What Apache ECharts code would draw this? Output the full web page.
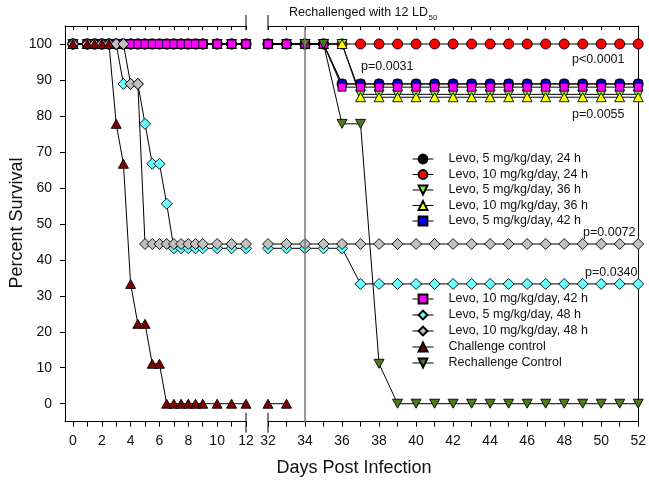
<!DOCTYPE html>
<html><head><meta charset="utf-8">
<script src="https://cdn.jsdelivr.net/npm/echarts@6/dist/echarts.min.js"></script>
<style>html,body{margin:0;padding:0;background:#fff}#c{width:649px;height:480px}</style>
</head><body><div id="c"></div>
<script>
// ---------- data ----------
const daysEarly = [0, 1, 1.5, 2, 2.5, 3, 3.5, 4, 4.5, 5, 5.5, 6, 6.5, 7, 7.5, 8, 8.5, 9, 10, 11, 12];
const daysLate = [32, 33, 34, 35, 36, 37, 38, 39, 40, 41, 42, 43, 44, 45, 46, 47, 48, 49, 50, 51, 52];

const xTicksEarly = [0, 1, 2, 3, 4, 5, 6, 7, 8, 9, 10, 11, 12];
const xLabelsEarly = [0, 2, 4, 6, 8, 10, 12];
const xTicksLate = [32, 33, 34, 35, 36, 37, 38, 39, 40, 41, 42, 43, 44, 45, 46, 47, 48, 49, 50, 51, 52];
const xLabelsLate = [32, 34, 36, 38, 40, 42, 44, 46, 48, 50, 52];
const yTicks = [0, 10, 20, 30, 40, 50, 60, 70, 80, 90, 100];

const names = [
  'Levo, 5 mg/kg/day, 24 h', 'Levo, 10 mg/kg/day, 24 h', 'Levo, 5 mg/kg/day, 36 h',
  'Levo, 10 mg/kg/day, 36 h', 'Levo, 5 mg/kg/day, 42 h', 'Levo, 10 mg/kg/day, 42 h',
  'Levo, 5 mg/kg/day, 48 h', 'Levo, 10 mg/kg/day, 48 h', 'Challenge control', 'Rechallenge Control'
];

const levo5_24_early  = [100,100,100,100,100,100,100,100,100,100,100,100,100,100,100,100,100,100,100,100,100];
const levo5_24_late   = [100,100,100,100,88.9,88.9,88.9,88.9,88.9,88.9,88.9,88.9,88.9,88.9,88.9,88.9,88.9,88.9,88.9,88.9,88.9];
const levo10_24_early = [100,100,100,100,100,100,100,100,100,100,100,100,100,100,100,100,100,100,100,100,100];
const levo10_24_late  = [100,100,100,100,100,100,100,100,100,100,100,100,100,100,100,100,100,100,100,100,100];
const levo5_36_early  = [100,100,100,100,100,100,100,100,100,100,100,100,100,100,100,100,100,100,100,100,100];
const levo5_36_late   = [100,100,100,100,100,86,86,86,86,86,86,86,86,86,86,86,86,86,86,86,86];
const levo10_36_early = [100,100,100,100,100,100,100,100,100,100,100,100,100,100,100,100,100,100,100,100,100];
const levo10_36_late  = [100,100,100,100,100,85.2,85.2,85.2,85.2,85.2,85.2,85.2,85.2,85.2,85.2,85.2,85.2,85.2,85.2,85.2,85.2];
const levo5_42_early  = [100,100,100,100,100,100,100,100,100,100,100,100,100,100,100,100,100,100,100,100,100];
const levo5_42_late   = [100,100,100,100,88.9,88.9,88.9,88.9,88.9,88.9,88.9,88.9,88.9,88.9,88.9,88.9,88.9,88.9,88.9,88.9,88.9];
const levo10_42_early = [100,100,100,100,100,100,100,100,100,100,100,100,100,100,100,100,100,100,100,100,100];
const levo10_42_late  = [100,100,100,100,88,88,88,88,88,88,88,88,88,88,88,88,88,88,88,88,88];
const levo5_48_early  = [100,100,100,100,100,100,88.9,88.9,88.9,77.8,66.7,66.7,55.6,43.2,43.2,43.2,43.2,43.2,43.2,43.2,43.2];
const levo5_48_late   = [43.2,43.2,43.2,43.2,43.2,33.3,33.3,33.3,33.3,33.3,33.3,33.3,33.3,33.3,33.3,33.3,33.3,33.3,33.3,33.3,33.3];
const levo10_48_early = [100,100,100,100,100,100,100,88.9,88.9,44.4,44.4,44.4,44.4,44.4,44.4,44.4,44.4,44.4,44.4,44.4,44.4];
const levo10_48_late  = [44.4,44.4,44.4,44.4,44.4,44.4,44.4,44.4,44.4,44.4,44.4,44.4,44.4,44.4,44.4,44.4,44.4,44.4,44.4,44.4,44.4];
const challenge_early = [100,100,100,100,100,77.8,66.7,33.3,22.2,22.2,11.1,11.1,0,0,0,0,0,0,0,0,0];
const challenge_late  = [0,0,null,null,null,null,null,null,null,null,null,null,null,null,null,null,null,null,null,null,null];
const rechallenge_early = [null,null,null,null,null,null,null,null,null,null,null,null,null,null,null,null,null,null,null,null,null];
const rechallenge_late  = [null,null,100,100,77.8,77.8,11.1,0,0,0,0,0,0,0,0,0,0,0,0,0,0];

// ---------- styling ----------
const FONT = '"Liberation Sans", Arial, sans-serif';
const DOWN_TRI = 'path://M0,0L10,0L5,9Z';
const UP_TRI = 'path://M5,0L10,9L0,9Z';
const styles = [
  {color: '#000000', symbol: 'circle', size: 10},
  {color: '#ff0000', symbol: 'circle', size: 10},
  {color: '#8cf024', symbol: DOWN_TRI, size: [10, 9]},
  {color: '#ffff00', symbol: UP_TRI, size: [10, 9]},
  {color: '#0000ff', symbol: 'rect', size: 8},
  {color: '#ff00ff', symbol: 'rect', size: 8},
  {color: '#66ffff', symbol: 'diamond', size: [11, 11]},
  {color: '#c0c0c0', symbol: 'diamond', size: [11, 11]},
  {color: '#800000', symbol: UP_TRI, size: [10, 9]},
  {color: '#4d7a1e', symbol: DOWN_TRI, size: [10, 9]}
];
const early = [levo5_24_early, levo10_24_early, levo5_36_early, levo10_36_early, levo5_42_early,
  levo10_42_early, levo5_48_early, levo10_48_early, challenge_early, rechallenge_early];
const late = [levo5_24_late, levo10_24_late, levo5_36_late, levo10_36_late, levo5_42_late,
  levo10_42_late, levo5_48_late, levo10_48_late, challenge_late, rechallenge_late];
// drawing order (later = on top)
const drawOrder = [1, 0, 2, 3, 4, 5, 6, 7, 8, 9];

const G1 = {left: 65, top: 26, width: 181, height: 395.7};
const G2 = {left: 268, top: 26, width: 374, height: 395.7};
const X1MIN = -0.55, X1MAX = 12, X2MIN = 32, X2MAX = 52, YMIN = -5, YMAX = 105;

function mkSeries(i, seg) {
  const s = styles[i];
  const xs = seg === 0 ? daysEarly : daysLate;
  const ys = seg === 0 ? early[i] : late[i];
  const ser = {
    type: 'line', name: names[i],
    xAxisIndex: seg, yAxisIndex: seg,
    data: xs.map((x, k) => [x, ys[k]]),
    symbol: s.symbol, symbolSize: s.size, showAllSymbol: true,
    connectNulls: false, clip: false,
    lineStyle: {color: '#000', width: 1},
    itemStyle: {color: s.color, borderColor: '#000', borderWidth: 0.9, opacity: 1},
    emphasis: {disabled: true}
  };
  if (seg === 1 && i === 9) {
    ser.markLine = {
      silent: true, symbol: 'none', animation: false,
      label: {show: false},
      lineStyle: {color: '#7a7a7a', width: 1.5, type: 'solid'},
      data: [{xAxis: 34}]
    };
  }
  return ser;
}
const series = [];
drawOrder.forEach(i => { series.push(mkSeries(i, 0)); series.push(mkSeries(i, 1)); });

const axisLineStyle = {color: '#000', width: 1};
const labelStyle = {color: '#111', fontSize: 14, fontFamily: FONT};

function xAxisBottom(grid, min, max, ticks, labels) {
  return {
    type: 'value', gridIndex: grid, min: min, max: max, position: 'bottom',
    axisLine: {show: true, onZero: false, lineStyle: axisLineStyle},
    axisTick: {show: true, inside: false, length: 5, customValues: ticks, lineStyle: axisLineStyle},
    axisLabel: Object.assign({show: true, margin: 12, customValues: labels}, labelStyle),
    splitLine: {show: false}
  };
}
function xAxisTop(grid, min, max, ticks) {
  return {
    type: 'value', gridIndex: grid, min: min, max: max, position: 'top',
    axisLine: {show: true, onZero: false, lineStyle: axisLineStyle},
    axisTick: {show: true, inside: true, length: 4, customValues: ticks, lineStyle: axisLineStyle},
    axisLabel: {show: false}, splitLine: {show: false}
  };
}

const legendCommon = {
  orient: 'vertical', left: 412, padding: 0, itemWidth: 21, itemHeight: 11,
  selectedMode: false,
  lineStyle: {width: 1, color: '#000'},
  textStyle: {fontSize: 12.5, fontFamily: FONT, color: '#111', padding: [0, 0, 0, 10], lineHeight: 14}
};

const chart = echarts.init(document.getElementById('c'), null, {renderer: 'canvas'});
const xBreak1 = G1.left + G1.width, xBreak2 = G2.left;
const gTop = G1.top, gBot = G1.top + G1.height;

// measure for subscript placement
const ctx = document.createElement('canvas').getContext('2d');
ctx.font = '12.5px ' + FONT;
const mainTitle = 'Rechallenged with 12 LD';
const mainW = ctx.measureText(mainTitle).width;

const brk = (x, y1, y2) => ({type: 'line', silent: true, shape: {x1: x, y1: y1, x2: x, y2: y2}, style: {stroke: '#000', lineWidth: 1}});
const txt = (x, y, t, size, extra) => Object.assign({type: 'text', silent: true, style: Object.assign({x: x, y: y, text: t, fontSize: size, fontFamily: FONT, fill: '#111', verticalAlign: 'middle'}, extra || {})});

chart.setOption({
  animation: false,
  backgroundColor: '#fff',
  grid: [
    {left: G1.left, top: G1.top, width: G1.width, height: G1.height, containLabel: false},
    {left: G2.left, top: G2.top, width: G2.width, height: G2.height, containLabel: false}
  ],
  xAxis: [
    xAxisBottom(0, X1MIN, X1MAX, xTicksEarly, xLabelsEarly),
    xAxisBottom(1, X2MIN, X2MAX, xTicksLate, xLabelsLate),
    xAxisTop(0, X1MIN, X1MAX, xTicksEarly),
    xAxisTop(1, X2MIN, X2MAX, xTicksLate)
  ],
  yAxis: [
    {type: 'value', gridIndex: 0, min: YMIN, max: YMAX, position: 'left',
     axisLine: {show: true, onZero: false, lineStyle: axisLineStyle},
     axisTick: {show: true, length: 5, customValues: yTicks, lineStyle: axisLineStyle},
     axisLabel: Object.assign({show: true, margin: 13, customValues: yTicks}, labelStyle),
     splitLine: {show: false}},
    {type: 'value', gridIndex: 1, min: YMIN, max: YMAX, position: 'right',
     axisLine: {show: true, onZero: false, lineStyle: axisLineStyle},
     axisTick: {show: false}, axisLabel: {show: false}, splitLine: {show: false}}
  ],
  legend: [
    Object.assign({top: 152, itemGap: 1.5, data: names.slice(0, 5)}, legendCommon),
    Object.assign({top: 292, itemGap: 2, data: names.slice(5, 10)}, legendCommon)
  ],
  graphic: [
    brk(xBreak1, 15, 30), brk(xBreak2, 15, 30),
    brk(xBreak1, gBot - 9, gBot + 11), brk(xBreak2, gBot - 9, gBot + 11),
    txt(289, 13, mainTitle, 12.5),
    txt(289 + mainW + 0.5, 18, '50', 8),
    txt(572, 60, 'p<0.0001', 12.5),
    txt(361, 67, 'p=0.0031', 12.5),
    txt(572, 115, 'p=0.0055', 12.5),
    txt(583, 233, 'p=0.0072', 12.5),
    txt(585, 273, 'p=0.0340', 12.5),
    txt(354, 468, 'Days Post Infection', 18, {align: 'center'}),
    {type: 'text', silent: true, x: 17, y: 223, rotation: Math.PI / 2,
     style: {x: 0, y: 0, text: 'Percent Survival', fontSize: 18, fontFamily: FONT, fill: '#111', align: 'center', verticalAlign: 'middle'}}
  ],
  series: series
});
</script>
</body></html>
